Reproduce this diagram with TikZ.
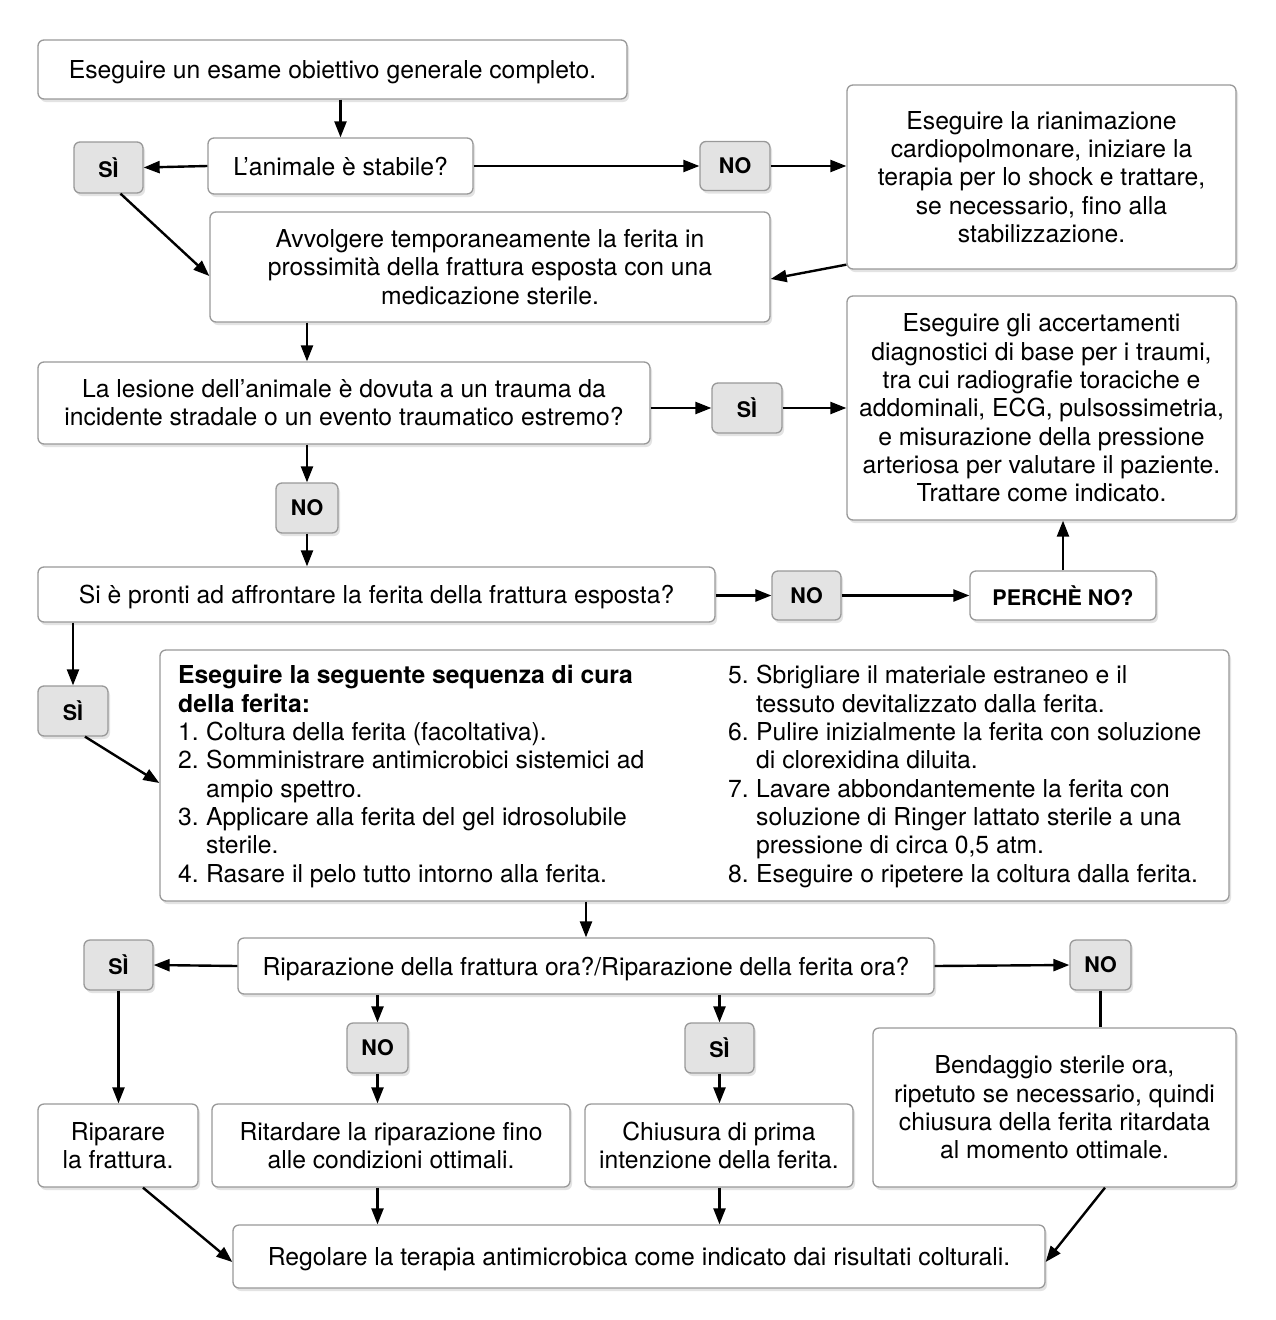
\documentclass[tikz,border=0pt]{standalone}
\usepackage{fontspec}
\setmainfont{TeX Gyre Heros}
\usetikzlibrary{arrows.meta,shadows}
\begin{document}
\begin{tikzpicture}[x=1pt,y=-1pt,
 box/.style={draw=black!40, line width=1.3pt, rounded corners=6pt, fill=white,
   drop shadow={opacity=0.22,shadow xshift=2pt,shadow yshift=-3pt},
   align=center, inner sep=0pt, font=\fontsize{24.7}{28.3}\selectfont},
 one/.style={text depth=0pt},
 lab/.style={box, fill=black!11, font=\fontsize{21.5}{26}\selectfont\bfseries},
 txt/.style={inner sep=0pt, align=left, font=\fontsize{24.7}{28.3}\selectfont},
 arr/.style={line width=2.4pt, -{Triangle[length=16pt,width=12pt]}},
 ln/.style={line width=2.4pt}]
\useasboundingbox[fill=white] (0,0) rectangle (1275,1320);
% boxes
\node[box, one, minimum width=589pt, minimum height=59pt] (top) at (332.5,69.5) {Eseguire un esame obiettivo generale completo.};
\node[box, one, minimum width=265pt, minimum height=56pt] (stab) at (340.5,166) {L’animale è stabile?};
\node[lab, minimum width=69pt, minimum height=51pt] (si1) at (108.5,167.5) {SÌ};
\node[lab, minimum width=70pt, minimum height=49pt] (no1) at (735,166) {NO};
\node[box, minimum width=389pt, minimum height=184pt] (rian) at (1041.5,177) {Eseguire la rianimazione\\cardiopolmonare, iniziare la\\terapia per lo shock e trattare,\\se necessario, fino alla\\stabilizzazione.};
\node[box, minimum width=560pt, minimum height=110pt] (avv) at (490,267) {Avvolgere temporaneamente la ferita in\\prossimità della frattura esposta con una\\medicazione sterile.};
\node[box, minimum width=612pt, minimum height=82pt] (les) at (344,403) {La lesione dell’animale è dovuta a un trauma da\\incidente stradale o un evento traumatico estremo?};
\node[lab, minimum width=70pt, minimum height=50pt] (si2) at (747,408) {SÌ};
\node[box, minimum width=389pt, minimum height=224pt] (acc) at (1041.5,408) {Eseguire gli accertamenti\\diagnostici di base per i traumi,\\tra cui radiografie toraciche e\\addominali, ECG, pulsossimetria,\\e misurazione della pressione\\arteriosa per valutare il paziente.\\Trattare come indicato.};
\node[lab, minimum width=62pt, minimum height=50pt] (no2) at (307,508) {NO};
\node[box, one, minimum width=677pt, minimum height=55pt] (pronti) at (376.5,594.5) {Si è pronti ad affrontare la ferita della frattura esposta?};
\node[lab, minimum width=69pt, minimum height=49pt] (no3) at (806.5,595.5) {NO};
\node[box, minimum width=186pt, minimum height=49pt, font=\fontsize{21.5}{26}\selectfont\bfseries] (perche) at (1063,595.5) {PERCHÈ NO?};
\node[lab, minimum width=70pt, minimum height=50pt] (si3) at (73,711) {SÌ};
\node[box, minimum width=1069pt, minimum height=251pt] (seq) at (694.5,775.5) {};
\node[txt, anchor=west] (seqL) at (178,776.5) {\textbf{Eseguire la seguente sequenza di cura}\\\textbf{della ferita:}\\\makebox[28pt][l]{1.}Coltura della ferita (facoltativa).\\\makebox[28pt][l]{2.}Somministrare antimicrobici sistemici ad\\\hspace*{28pt}ampio spettro.\\\makebox[28pt][l]{3.}Applicare alla ferita del gel idrosolubile\\\hspace*{28pt}sterile.\\\makebox[28pt][l]{4.}Rasare il pelo tutto intorno alla ferita.};
\node[txt, anchor=west] (seqR) at (728,776.5) {\makebox[28pt][l]{5.}Sbrigliare il materiale estraneo e il\\\hspace*{28pt}tessuto devitalizzato dalla ferita.\\\makebox[28pt][l]{6.}Pulire inizialmente la ferita con soluzione\\\hspace*{28pt}di clorexidina diluita.\\\makebox[28pt][l]{7.}Lavare abbondantemente la ferita con\\\hspace*{28pt}soluzione di Ringer lattato sterile a una\\\hspace*{28pt}pressione di circa 0,5 atm.\\\makebox[28pt][l]{8.}Eseguire o ripetere la coltura dalla ferita.};
\node[box, one, minimum width=696pt, minimum height=56pt] (rip) at (586,966) {Riparazione della frattura ora?/Riparazione della ferita ora?};
\node[lab, minimum width=69pt, minimum height=50pt] (si4) at (118.5,965) {SÌ};
\node[lab, minimum width=61pt, minimum height=50pt] (no4) at (1100.5,965) {NO};
\node[lab, minimum width=61pt, minimum height=50pt] (no5) at (377.5,1048) {NO};
\node[lab, minimum width=69pt, minimum height=50pt] (si5) at (719.5,1048) {SÌ};
\node[box, minimum width=160pt, minimum height=83pt] (ripf) at (118,1145.5) {Riparare\\la frattura.};
\node[box, minimum width=358pt, minimum height=83pt] (rit) at (391,1145.5) {Ritardare la riparazione fino\\alle condizioni ottimali.};
\node[box, minimum width=268pt, minimum height=83pt] (chi) at (719,1145.5) {Chiusura di prima\\intenzione della ferita.};
\node[box, minimum width=363pt, minimum height=159pt] (ben) at (1054.5,1107.5) {Bendaggio sterile ora,\\ripetuto se necessario, quindi\\chiusura della ferita ritardata\\al momento ottimale.};
\node[box, one, minimum width=812pt, minimum height=63pt] (reg) at (639,1256.5) {Regolare la terapia antimicrobica come indicato dai risultati colturali.};
% connectors
\draw[arr] (stab.north |- top.south) -- (stab.north);
\draw[arr] (stab.west) -- (si1.east);
\draw[arr] (stab.east) -- (no1.west);
\draw[arr] (no1.east) -- (rian.west |- no1.east);
\draw[arr] ([xshift=12pt]si1.south) -- ([yshift=-9pt]avv.west);
\draw[arr] ([yshift=5pt]rian.south west) -- ([yshift=-12pt]avv.east);
\draw[arr] (no2.north |- avv.south) -- (no2.north |- les.north);
\draw[arr] (les.east |- si2) -- (si2.west);
\draw[arr] (si2.east) -- (acc.west |- si2);
\draw[arr] (no2.north |- les.south) -- (no2.north);
\draw[arr] (no2.south) -- (no2.south |- pronti.north);
\draw[arr] (pronti.east |- no3) -- (no3.west);
\draw[arr] (no3.east) -- (perche.west);
\draw[arr] (perche.north) -- (perche.north |- acc.south);
\draw[arr] (si3.north |- pronti.south) -- (si3.north);
\draw[arr] ([xshift=12pt]si3.south) -- ([yshift=-7.5pt]seq.west);
\draw[arr] (rip.north |- seq.south) -- (rip.north);
\draw[arr] (rip.west) -- (si4.east);
\draw[arr] (rip.east) -- (no4.west);
\draw[arr] (no5.north |- rip.south) -- (no5.north);
\draw[arr] (si5.north |- rip.south) -- (si5.north);
\draw[arr] (no5.south) -- (no5.south |- rit.north);
\draw[arr] (si5.south) -- (si5.south |- chi.north);
\draw[arr] (si4.south) -- (si4.south |- ripf.north);
\draw[ln] (no4.south) -- (no4.south |- ben.north);
\draw[arr] ([xshift=25pt]ripf.south) -- ([yshift=-5.5pt]reg.west);
\draw[arr] (no5.south |- rit.south) -- (no5.south |- reg.north);
\draw[arr] (si5.south |- chi.south) -- (si5.south |- reg.north);
\draw[arr] ([xshift=50.5pt]ben.south) -- ([yshift=-5.5pt]reg.east);
\end{tikzpicture}
\end{document}
